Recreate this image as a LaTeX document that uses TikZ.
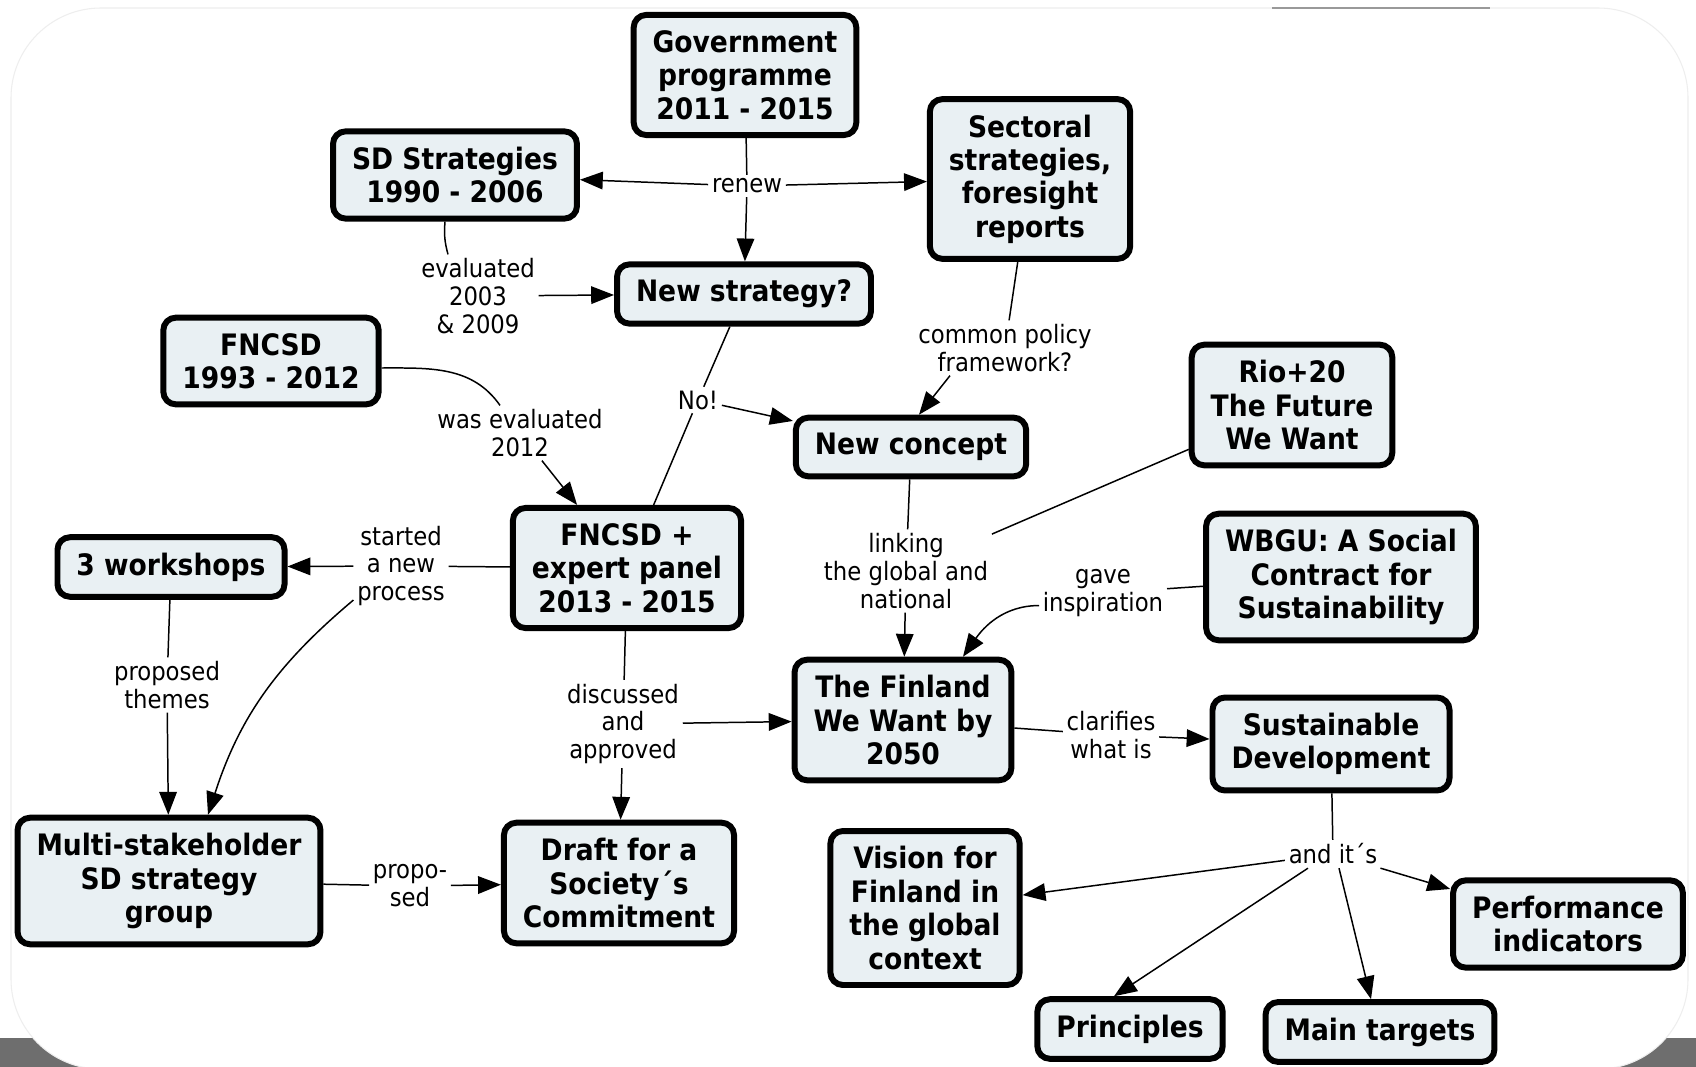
\documentclass[tikz,border=0pt]{standalone}
\usepackage{fontspec}
\setmainfont{DejaVu Sans Condensed}
\usetikzlibrary{arrows.meta}

\definecolor{boxfill}{HTML}{E9F0F3}
\definecolor{stripgray}{HTML}{6E6E6E}
\definecolor{cardedge}{HTML}{EEEEEE}

\begin{document}
\begin{tikzpicture}[x=0.02cm, y=-0.02cm,
  concept/.style={draw, line width=3.4pt, rounded corners=0.25cm, fill=boxfill,
    align=center, inner xsep=0.38cm, inner ysep=0.31cm,
    font=\fontsize{16.8}{19}\selectfont\bfseries},
  link/.style={align=center, inner sep=2pt, font=\fontsize{14.4}{15.9}\selectfont},
  con/.style={line width=0.85pt},
  arr/.style={con, -{Triangle[length=13pt,width=10pt]}}]
\useasboundingbox (0,0) rectangle (1696,1067);

% page and card
\fill[white] (0,0) rectangle (1696,1067);
\fill[stripgray] (0,1038) rectangle (1696,1067);
\draw[cardedge, fill=white, line width=0.6pt, rounded corners=1.8cm] (11,8) rectangle (1688,1069);
\draw[gray!80, line width=0.9pt] (1272,8) -- (1490,8);

% concepts
\node[concept] (gov) at (745,75) {Government\\programme\\2011 - 2015};
\node[concept] (sdstrat) at (455,175) {SD Strategies\\1990 - 2006};
\node[concept] (sector) at (1030,179) {Sectoral\\strategies,\\foresight\\reports};
\node[concept] (newstrat) at (744,294) {New strategy?};
\node[concept] (fncsd) at (271,361) {FNCSD\\1993 - 2012};
\node[concept] (rio) at (1292,405) {Rio+20\\The Future\\We Want};
\node[concept] (newconc) at (911,447) {New concept};
\node[concept] (panel) at (627,568) {FNCSD +\\expert panel\\2013 - 2015};
\node[concept] (workshops) at (171,567) {3 workshops};
\node[concept] (wbgu) at (1341,577) {WBGU: A Social\\Contract for\\Sustainability};
\node[concept] (finland) at (903,720) {The Finland\\We Want by\\2050};
\node[concept] (susdev) at (1331,744) {Sustainable\\Development};
\node[concept] (multi) at (169,881) {Multi-stakeholder\\SD strategy\\group};
\node[concept] (draft) at (619,883) {Draft for a\\Society´s\\Commitment};
\node[concept] (vision) at (925,908) {Vision for\\Finland in\\the global\\context};
\node[concept] (perf) at (1568,924) {Performance\\indicators};
\node[concept] (princ) at (1130,1029) {Principles};
\node[concept] (targets) at (1380,1032) {Main targets};

% linking phrases
\node[link] (renew) at (747,186) {renew};
\node[link] (eval) at (478,296) {evaluated\\2003\\\& 2009};
\node[link] (common) at (1005,348) {common policy\\framework?};
\node[link] (no) at (698,400) {No!};
\node[link] (waseval) at (520,433) {was evaluated\\2012};
\node[link] (started) at (401,566) {started\\a new\\process};
\node[link] (linking) at (906,571) {linking\\the global and\\national};
\node[link] (gave) at (1103,593) {gave\\inspiration};
\node[link] (proposed) at (167,685) {proposed\\themes};
\node[link] (discussed) at (623,724) {discussed\\and\\approved};
\node[link] (clarifies) at (1111,735) {clarifies\\what is};
\node[link] (andits) at (1333,854) {and it´s};
\node[link] (propsed) at (410,886) {propo-\\sed};

% connectors
\draw[con] (gov) -- (renew);
\draw[arr] (renew) -- (sdstrat);
\draw[arr] (renew) -- (sector);
\draw[arr] (renew) -- (newstrat);
\draw[con] ([xshift=-0.2cm]sdstrat.south) to[bend right=10] ([xshift=-0.6cm]eval.north);
\draw[arr] (eval) -- (newstrat);
\draw[con] (sector) -- (common);
\draw[arr] ([xshift=-1.1cm]common.south) -- ([xshift=0.16cm]newconc.north);
\draw[con] (newstrat) -- (no);
\draw[con] (no) -- (panel);
\draw[arr] (no) -- (newconc);
\draw[con] ([yshift=-0.14cm]fncsd.east) to[out=0,in=125] ([xshift=-0.4cm]waseval.north);
\draw[arr] (waseval) -- (panel);
\draw[con] (panel) -- (started);
\draw[arr] (started) -- (workshops);
\draw[arr] ([yshift=0.2cm]started.south west) to[out=-140,in=72] ([xshift=0.78cm]multi.north);
\draw[con] (workshops) -- (proposed);
\draw[arr] (proposed) -- (multi);
\draw[con] (panel) -- (discussed);
\draw[arr] (discussed) -- (finland);
\draw[arr] (discussed) -- (draft);
\draw[con] (multi) -- (propsed);
\draw[arr] (propsed) -- (draft);
\draw[con] (newconc) -- (linking);
\draw[arr] (linking) -- (finland);
\draw[con] (rio) -- (linking);
\draw[con] (wbgu) -- (gave);
\draw[arr] ([yshift=0.3cm]gave.south west) to[out=180,in=55] ([xshift=1.2cm]finland.north);
\draw[con] (finland) -- (clarifies);
\draw[arr] (clarifies) -- (susdev);
\draw[con] (susdev) -- (andits);
\draw[arr] (andits) -- (vision);
\draw[arr] ([xshift=-0.5cm]andits.south) -- ([xshift=-0.32cm]princ.north);
\draw[arr] ([xshift=0.12cm]andits.south) -- ([xshift=-0.18cm]targets.north);
\draw[arr] (andits) -- (perf);
\end{tikzpicture}
\end{document}
